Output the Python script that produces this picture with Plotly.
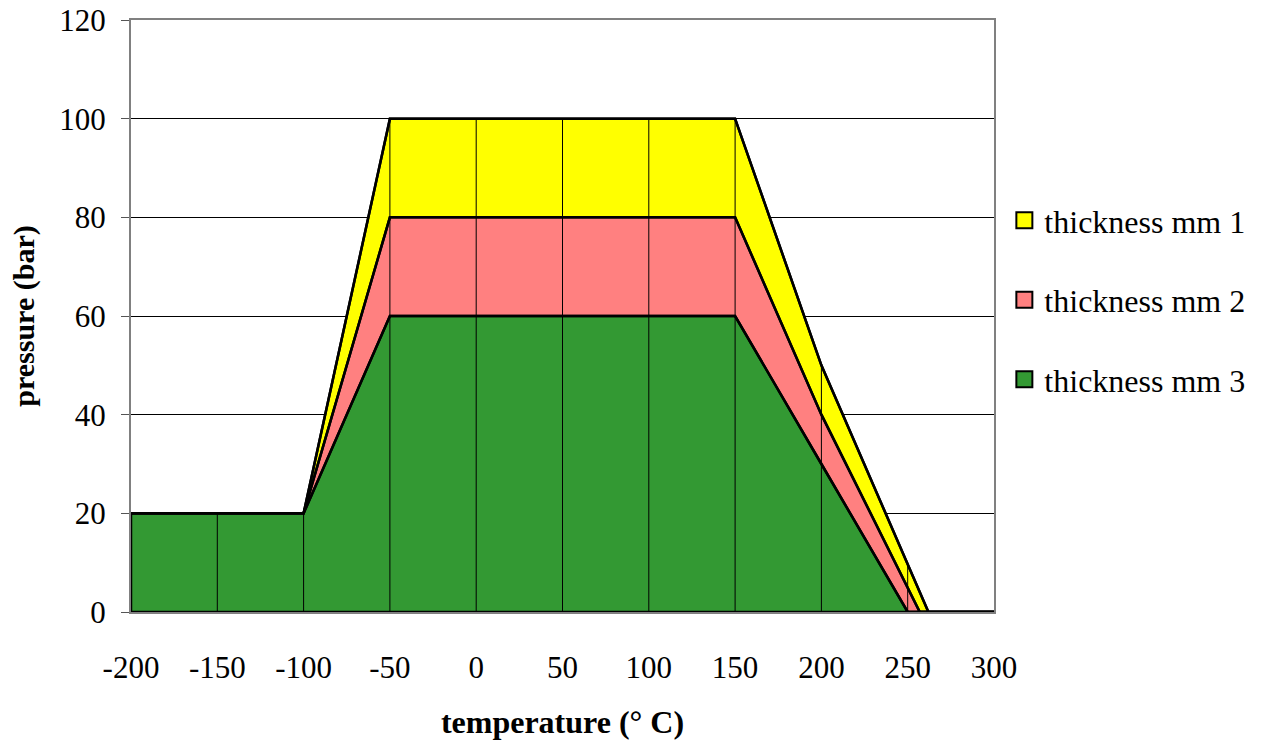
import numpy as np
import plotly.graph_objects as go

# ---- data ----
series_names = ["thickness mm 1", "thickness mm 2", "thickness mm 3"]
colors = ["#FFFF00", "#FF8080", "#339933"]

temps_mm1 = [-200, -150, -100, -50, 0, 50, 100, 150, 200, 262, 300]
pressure_mm1 = [20, 20, 20, 100, 100, 100, 100, 100, 50, 0, 0]

temps_mm2 = [-200, -150, -100, -50, 0, 50, 100, 150, 200, 257, 300]
pressure_mm2 = [20, 20, 20, 80, 80, 80, 80, 80, 40, 0, 0]

temps_mm3 = [-200, -150, -100, -50, 0, 50, 100, 150, 200, 250, 300]
pressure_mm3 = [20, 20, 20, 60, 60, 60, 60, 60, 30, 0, 0]

category_ticks = [-200, -150, -100, -50, 0, 50, 100, 150, 200, 250, 300]
y_ticks = [0, 20, 40, 60, 80, 100, 120]

FONT = "'Liberation Serif', 'Times New Roman', Times, serif"

fig = go.Figure()

all_series = [(temps_mm1, pressure_mm1), (temps_mm2, pressure_mm2), (temps_mm3, pressure_mm3)]

# filled areas (closed polygon down to the axis), back to front
for (xs, ys), name, col in zip(all_series, series_names, colors):
    px = list(xs) + [xs[-1], xs[0], xs[0]]
    py = list(ys) + [0, 0, ys[0]]
    fig.add_trace(go.Scatter(
        x=px, y=py, mode="lines", fill="toself", fillcolor=col,
        line=dict(color="black", width=2.5), showlegend=False, hoverinfo="skip"))

# drop lines at each interior category, up to the highest series
dx, dy = [], []
for c in category_ticks[1:-1]:
    top = max(np.interp(c, xs, ys) for xs, ys in all_series)
    if top > 0:
        dx += [c, c, None]
        dy += [0, top, None]
fig.add_trace(go.Scatter(x=dx, y=dy, mode="lines", line=dict(color="black", width=1),
                         showlegend=False, hoverinfo="skip"))

# redraw outlines on top of drop lines
for (xs, ys) in all_series:
    fig.add_trace(go.Scatter(x=xs, y=ys, mode="lines", line=dict(color="black", width=2.5),
                             showlegend=False, hoverinfo="skip"))

# legend entries (square swatches)
for i, (name, col) in enumerate(zip(series_names, colors)):
    fig.add_trace(go.Scatter(
        x=[None], y=[None], mode="markers", name=name, legendgroup=f"g{i}",
        marker=dict(symbol="square", size=17, color=col, line=dict(color="black", width=2))))

fig.update_layout(
    width=1264, height=740,
    paper_bgcolor="white", plot_bgcolor="white",
    margin=dict(l=131, r=270, t=20, b=128, autoexpand=False),
    font=dict(family=FONT, size=31, color="black"),
    legend=dict(x=1.012, xanchor="left", y=0.708, yanchor="top",
                tracegroupgap=35, font=dict(family=FONT, size=32, color="black"),
                itemwidth=30, bgcolor="rgba(0,0,0,0)"),
    xaxis=dict(range=[-200, 300], tickvals=category_ticks,
               ticktext=[str(v) for v in category_ticks], automargin=False,
               showgrid=False, zeroline=False, ticks="", ticklabelstandoff=27,
               ticklabeloverflow="allow",
               tickfont=dict(family=FONT, size=31),
               showline=True, linecolor="#808080", linewidth=2, mirror=True,
               title=dict(text="<b>temperature (° C)</b>", standoff=28,
                          font=dict(family=FONT, size=32))),
    yaxis=dict(range=[0, 120], tickvals=y_ticks, showgrid=True, gridcolor="black",
               gridwidth=1, zeroline=False, ticks="outside", ticklen=8, automargin=False,
               tickcolor="#555555", ticklabelstandoff=9, ticklabeloverflow="allow",
               tickfont=dict(family=FONT, size=31),
               showline=True, linecolor="#808080", linewidth=2, mirror=True,
               title=dict(text="<b>pressure (bar)</b>", standoff=16,
                          font=dict(family=FONT, size=30))),
)

fig.write_html("out.html", config={"displayModeBar": False},
               post_script="document.body.style.margin='0';document.body.style.overflow='hidden';")
